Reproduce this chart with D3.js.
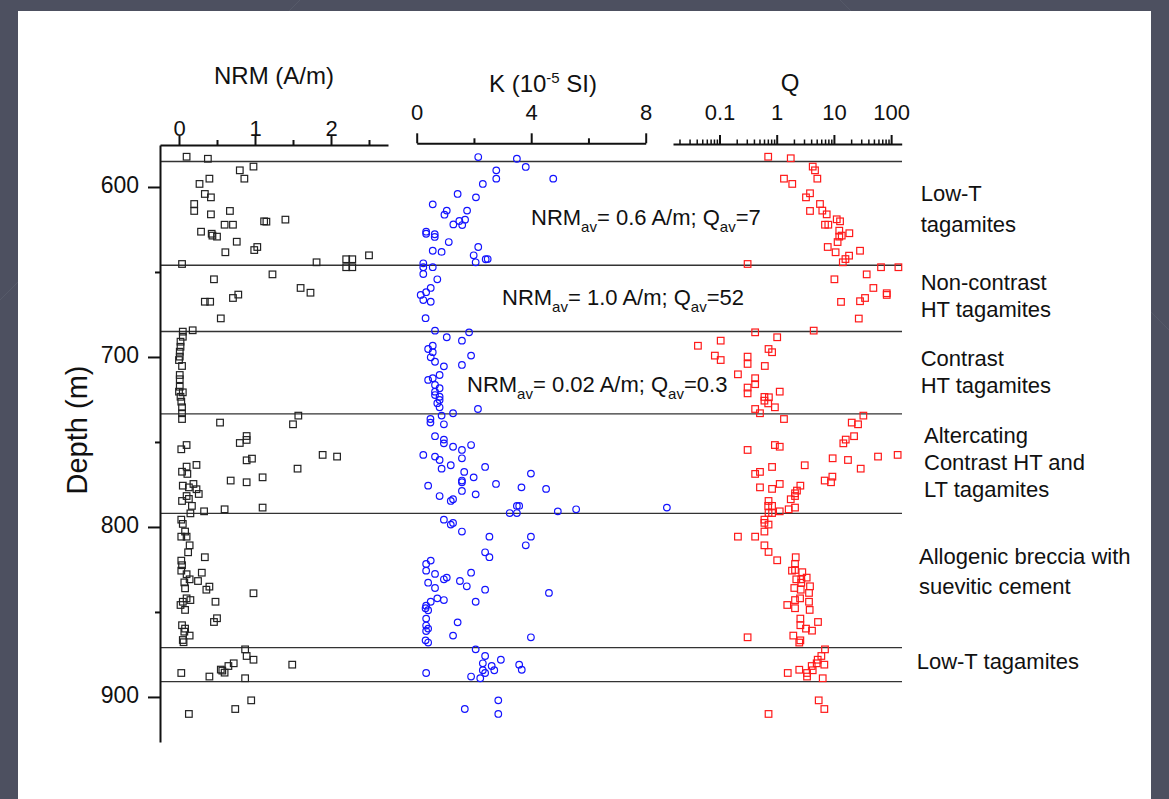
<!DOCTYPE html>
<html>
<head>
<meta charset="utf-8">
<script src="https://cdnjs.cloudflare.com/ajax/libs/d3/7.8.5/d3.min.js"></script>
<style>
	body { margin: 0; background: #4d5060; }
	svg text { font-family: "Liberation Sans", Arial, sans-serif; fill: #111; }
</style>
</head>
<body>
<div id="g-container"></div>
<script>
	// depth (m), value pairs
	var nrmPoints = [[582.2,0.10],[583.4,0.38],[588.0,0.98],[590.2,0.80],[595.1,0.86],[595.1,0.40],[598.2,0.27],[604.1,0.34],[606.1,0.42],[610.0,0.20],[614.1,0.20],[616.1,0.42],[614.1,0.67],[622.2,0.60],[622.2,0.71],[620.2,1.12],[620.4,1.15],[619.2,1.40],[626.3,0.29],[627.5,0.43],[628.6,0.44],[629.2,0.50],[632.2,0.76],[635.3,1.03],[637.1,0.99],[638.4,0.61],[640.2,2.50],[642.5,2.20],[642.5,2.28],[647.2,2.20],[647.2,2.28],[644.3,1.81],[645.3,0.04],[651.4,1.23],[654.3,0.46],[659.4,1.60],[662.2,1.73],[663.3,0.78],[665.3,0.71],[667.5,0.34],[667.5,0.41],[677.3,0.55],[684.3,0.18],[685.1,0.05],
		[688.1,0.05],[691.0,0.02],[694.0,0.02],[696.9,0.01],[699.8,0.01],[701.8,0.00],[705.3,0.04],[710.6,0.01],[713.1,0.01],[717.5,0.01],[720.4,0.00],[720.8,0.05],[723.4,0.02],[726.3,0.03],[729.6,0.04],[733.1,0.04],[736.5,0.04],
		[734.5,1.57],[739.6,1.50],[738.6,0.54],[746.5,0.89],[748.8,0.89],[750.6,0.80],[751.8,0.10],[754.3,0.03],[757.6,1.89],[758.6,2.08],[759.8,0.96],[760.8,0.89],[765.7,1.56],[763.5,0.23],[764.5,0.10],[767.5,0.04],[768.8,0.11],[770.8,1.10],[772.7,0.68],[773.7,0.89],[775.7,0.05],[776.7,0.13],[774.7,0.19],[777.8,0.23],[780.6,0.26],[781.8,0.10],[784.7,0.04],[783.5,0.13],[787.6,0.17],[792.0,0.15],[790.8,0.33],[789.6,0.60],[788.6,1.10],
		[795.7,0.03],[798.2,0.05],[802.7,0.08],[805.7,0.03],[805.7,0.10],[810.8,0.14],[814.9,0.12],[817.8,0.34],[819.8,0.03],[822.5,0.04],[825.7,0.03],[826.9,0.30],[827.8,0.10],[830.8,0.14],[831.8,0.25],[832.6,0.07],[836.1,0.08],[835.1,0.40],[836.9,0.36],[839.0,0.98],[842.0,0.10],[843.0,0.15],[844.0,0.05],[844.0,0.48],[845.9,0.02],[848.8,0.08],[853.7,0.50],[855.9,0.46],[857.8,0.04],[859.8,0.08],[863.9,0.14],[861.6,0.07],[866.5,0.05],[867.8,0.06],
		[872.0,0.87],[875.9,0.89],[878.1,0.98],[880.2,0.72],[881.8,0.65],[883.9,0.55],[885.7,0.60],[884.5,0.57],[881.0,1.49],[885.9,0.03],[888.0,0.40],[889.0,0.87],[902.0,0.95],[907.1,0.74],[910.0,0.13]];

	var kPoints = [[582.4,2.15],[583.4,3.50],[588.2,3.81],[590.2,2.78],[595.1,2.78],[595.1,4.77],[598.2,2.31],[604.1,1.43],[606.1,2.07],[610.2,0.56],[613.9,1.05],[616.3,0.97],[613.9,1.76],[619.2,1.69],[620.0,1.49],[622.0,1.28],[622.4,1.59],[626.3,0.33],[627.5,0.33],[627.8,0.63],[629.4,0.63],[632.4,1.12],[635.3,2.15],[637.5,0.56],[638.2,0.87],[640.2,1.99],[642.5,2.41],[642.4,2.48],[644.3,2.06],[644.9,0.23],[647.2,0.23],[647.2,0.56],[651.2,0.23],[654.3,0.72],[659.4,0.49],[661.9,0.33],[663.5,0.14],[666.5,0.23],[667.5,0.49],[677.2,0.31],[684.5,0.64],
		[688.4,1.05],[685.5,1.83],[690.4,1.58],[693.4,0.56],[695.3,0.40],[697.2,0.56],[699.2,1.90],[700.2,0.49],[702.8,0.64],[704.7,1.58],[705.5,0.95],[710.6,0.80],[712.5,0.56],[713.5,0.40],[716.5,0.64],[718.4,0.80],[720.4,0.64],[722.4,0.64],[723.4,0.80],[727.2,0.72],[725.3,0.80],[729.6,0.80],[730.6,2.14],[733.1,1.27],
		[734.5,0.87],[736.5,0.48],[738.6,0.48],[739.6,0.95],[746.6,0.64],[748.6,0.95],[750.8,0.95],[752.8,1.27],[751.8,1.90],[754.7,1.58],[757.6,0.23],[758.6,0.64],[760.6,0.80],[759.6,1.58],[763.7,1.19],[765.7,0.87],[764.7,2.39],[767.6,1.66],[768.6,3.99],[770.8,1.99],[772.7,1.58],[773.7,1.58],[774.7,2.77],[775.7,0.40],[776.7,3.66],[777.6,4.52],[778.8,1.58],[780.8,2.06],[781.8,0.80],[783.7,1.27],[784.7,1.19],[787.6,3.50],[787.6,3.58],[791.8,3.25],[791.8,3.50],[790.8,4.93],[789.6,5.57],[788.6,8.74],
		[795.7,0.95],[797.6,1.27],[798.6,1.19],[802.7,1.58],[805.7,2.54],[805.7,3.99],[810.8,3.81],[814.9,2.39],[817.8,2.54],[819.8,0.49],[821.8,0.33],[825.7,0.33],[827.6,0.64],[826.9,1.90],[830.8,0.95],[829.8,1.05],[832.8,0.40],[831.8,1.51],[834.9,1.75],[835.9,0.64],[836.9,2.39],[838.8,4.62],[842.0,0.72],[844.0,0.49],[843.0,0.95],[844.0,2.06],[846.3,0.33],[847.8,0.31],[849.0,0.40],[853.9,0.33],[856.1,1.43],[858.0,0.33],[859.8,0.40],[861.2,0.33],[863.9,1.27],[864.9,3.99],[866.7,0.31],[868.0,0.40],
		[872.0,2.06],[875.9,2.39],[878.1,2.94],[880.2,2.31],[881.8,2.62],[881.0,3.58],[884.0,3.67],[884.3,2.31],[885.9,2.39],[884.3,2.71],[885.9,0.33],[888.0,1.90],[889.0,2.22],[902.0,2.85],[907.1,1.68],[910.0,2.85]];

	var qPoints = [[582.2,0.71],[583.1,1.76],[588.0,4.26],[590.2,4.67],[595.1,5.13],[595.1,1.34],[598.2,1.87],[603.7,3.82],[606.1,3.25],[610.0,5.71],[613.9,6.27],[614.1,3.82],[616.1,7.48],[619.0,11.2],[620.2,12.8],[622.2,6.98],[622.2,7.98],[625.7,12.4],[627.2,18.6],[628.6,13.7],[629.2,12.4],[632.4,11.6],[635.3,7.8],[638.4,10.7],[637.5,28.6],[640.4,18.4],[642.4,15.9],[644.3,14.3],[645.3,0.31],
		[647.2,66.6],[647.2,134],[651.4,37.4],[654.3,10.2],[659.4,48.9],[665.3,35.0],[667.2,28.6],[662.5,83.8],[663.5,83.8],[667.6,13.3],[677.4,27.2],
		[685.5,0.42],[684.5,4.43],[688.4,1.02],[690.4,0.105],[693.4,0.042],[695.3,0.72],[697.2,0.83],[699.2,0.083],[701.8,0.105],[699.8,0.31],[704.1,0.31],[705.3,0.62],[710.2,0.21],[712.5,0.42],[716.0,0.42],[718.0,0.31],[721.4,0.31],[720.4,1.13],[723.5,0.61],[723.7,0.73],[725.7,0.61],[727.3,0.71],[729.6,0.93],[730.6,0.42],[733.1,0.51],
		[736.5,1.34],[734.5,32.7],[738.6,20.5],[739.6,26.4],[746.6,22.5],[748.6,16.1],[750.8,14.6],[751.8,0.93],[752.8,1.13],[754.7,0.31],[759.6,9.5],[760.6,17.6],[758.6,59],[757.6,130],[765.7,29.4],[763.7,3.09],[764.7,0.83],[767.6,0.51],[768.8,0.42],[772.7,6.9],[770.4,9.4],[773.7,8.9],[774.7,1.13],[777.6,0.83],[776.7,0.51],[775.7,2.59],[778.6,2.26],[780.2,2.09],[781.8,2.09],[783.7,1.76],[784.7,0.72],[787.6,0.83],[787.6,0.71],[788.6,2.09],[789.6,1.62],[790.8,1.13],[791.8,0.72],[791.8,0.83],
		[795.7,0.61],[797.6,0.61],[798.6,0.72],[802.7,0.61],[805.7,0.21],[805.7,0.42],[810.8,0.61],[814.7,0.72],[819.6,1.02],[817.8,2.15],[821.8,2.09],[825.3,2.09],[825.7,1.85],[826.6,2.8],[829.8,3.34],[830.8,2.69],[830.8,2.2],[832.8,2.69],[834.9,3.82],[835.9,2.03],[836.9,2.63],[838.8,3.67],[842.0,2.56],[843.0,2.09],[844.0,3.67],[845.9,1.53],[847.8,2.09],[848.8,3.77],[853.9,2.59],[855.9,5.27],[857.8,2.59],[859.8,3.25],[861.0,4.14],[863.9,1.95],[864.9,0.31],[866.7,2.59],[868.0,2.48],
		[872.0,6.98],[875.9,6.03],[878.1,5.21],[881.0,6.8],[881.8,4.09],[880.2,5.0],[884.0,2.48],[885.9,1.56],[885.9,3.39],[884.3,4.26],[888.0,3.39],[889.0,6.37],[902.0,5.42],[907.1,6.8],[910.0,0.72]];

	// unit boundaries (m)
	var boundaryDepths = [585, 646, 685, 733.5, 792, 871, 891];

	var depthTicks = [600, 700, 800, 900];
	var depthMinorTicks = [650, 750, 850];
	var nrmTicks = [0, 1, 2];
	var nrmMinorTicks = [0.5, 1.5, 2.5];
	var kTicks = [0, 4, 8];
	var kMinorTicks = [2, 6];
	var qTicks = [0.1, 1, 10, 100];

	var unitLabels = [
		["Low-T", "tagamites"],
		["Non-contrast", "HT tagamites"],
		["Contrast", "HT tagamites"],
		["Altercating", "Contrast HT and", "LT tagamites"],
		["Allogenic breccia with", "suevitic cement"],
		["Low-T tagamites"]
	];
	var averages = [
		{nrm: "0.6", q: "7"},
		{nrm: "1.0", q: "52"},
		{nrm: "0.02", q: "0.3"}
	];

	var W = 1169, H = 799;
	var svg = d3.select("#g-container").append("svg").attr("width", W).attr("height", H)

	// slide background
	svg.append("rect").attr("width", W).attr("height", H).attr("fill", "#4d5060")
	svg.append("line").attr("x1", 0).attr("y1", 300).attr("x2", 300).attr("y2", 0).attr("stroke", "#565a69").attr("stroke-width", 1)
	svg.append("line").attr("x1", 840).attr("y1", 0).attr("x2", 1169).attr("y2", 330).attr("stroke", "#565a69").attr("stroke-width", 1)
	svg.append("rect").attr("x", 18).attr("y", 11).attr("width", 1133).attr("height", H - 11).attr("fill", "#fff")

	var y = d3.scaleLinear().domain([575.3, 926.5]).range([145, 742])
	var xNrm = d3.scaleLinear().domain([-0.25, 2.75]).range([160, 388])
	var xK = d3.scaleLinear().domain([0, 8]).range([416.7, 645.7])
	var xQ = d3.scaleLog().domain([0.0154, 153]).range([673, 901.7])

	function styleAxis(g, width){
		g.selectAll(".domain").attr("stroke", "#111").attr("stroke-width", width)
		g.selectAll(".tick line").attr("stroke", "#111").attr("stroke-width", width)
		g.selectAll("text").style("font-family", "Liberation Sans, Arial, sans-serif").attr("fill", "#111")
	}

	// boundary lines
	svg.append("g").selectAll("line").data(boundaryDepths).join("line")
		.attr("x1", 160).attr("x2", 902)
		.attr("y1", function(d){ return y(d) })
		.attr("y2", function(d){ return y(d) })
		.attr("stroke", "#333").attr("stroke-width", 1.4)

	// depth axis
	var gDepth = svg.append("g").attr("transform", "translate(160,0)")
		.call(d3.axisLeft(y).tickValues(depthTicks).tickSize(12).tickSizeOuter(0).tickPadding(9))
	gDepth.selectAll("text").attr("font-size", 23).attr("dy", "0.24em")
	styleAxis(gDepth, 2)
	var gDepthMinor = svg.append("g").attr("transform", "translate(160,0)")
		.call(d3.axisLeft(y).tickValues(depthMinorTicks).tickSize(5).tickFormat(""))
	gDepthMinor.select(".domain").remove()
	styleAxis(gDepthMinor, 2)

	svg.append("text")
		.attr("transform", "translate(87,430) rotate(-90)")
		.attr("text-anchor", "middle")
		.attr("font-size", 29)
		.text("Depth (m)")

	// NRM axis
	var gNrm = svg.append("g").attr("transform", "translate(0,145)")
		.call(d3.axisTop(xNrm).tickValues(nrmTicks).tickSize(9).tickSizeOuter(0).tickPadding(0).tickFormat(d3.format("d")))
	gNrm.selectAll("text").attr("font-size", 22)
	styleAxis(gNrm, 2)
	var gNrmMinor = svg.append("g").attr("transform", "translate(0,145)")
		.call(d3.axisTop(xNrm).tickValues(nrmMinorTicks).tickSize(5).tickFormat(""))
	gNrmMinor.select(".domain").remove()
	styleAxis(gNrmMinor, 2)

	// K axis
	var gK = svg.append("g").attr("transform", "translate(0,143.3)")
		.call(d3.axisTop(xK).tickValues(kTicks).tickSize(10).tickSizeOuter(0).tickPadding(13).tickFormat(d3.format("d")))
	gK.selectAll("text").attr("font-size", 22)
	styleAxis(gK, 2)
	var gKMinor = svg.append("g").attr("transform", "translate(0,143.3)")
		.call(d3.axisTop(xK).tickValues(kMinorTicks).tickSize(5).tickFormat(""))
	gKMinor.select(".domain").remove()
	styleAxis(gKMinor, 2)

	// Q axis (log)
	var qMinor = []
	;[0.01, 0.1, 1, 10, 100].forEach(function(dec){
		for(var m = 2; m <= 9; m++){
			var v = dec * m
			if(v > xQ.domain()[0] && v < xQ.domain()[1]) qMinor.push(v)
		}
	})
	var gQ = svg.append("g").attr("transform", "translate(0,144)")
		.call(d3.axisTop(xQ).tickValues(qTicks).tickSize(9).tickSizeOuter(0).tickPadding(15).tickFormat(d3.format("~g")))
	gQ.selectAll("text").attr("font-size", 22)
	styleAxis(gQ, 2)
	var gQMinor = svg.append("g").attr("transform", "translate(0,144)")
		.call(d3.axisTop(xQ).tickValues(qMinor).tickSize(4.5).tickFormat(""))
	gQMinor.select(".domain").remove()
	styleAxis(gQMinor, 1.5)

	// titles
	svg.append("text").attr("x", 274).attr("y", 84).attr("text-anchor", "middle").attr("font-size", 24).text("NRM (A/m)")
	var kTitle = svg.append("text").attr("x", 543).attr("y", 92).attr("text-anchor", "middle").attr("font-size", 24)
	kTitle.append("tspan").text("K (10")
	kTitle.append("tspan").attr("dy", -9).attr("font-size", 15).text("-5")
	kTitle.append("tspan").attr("dy", 9).text(" SI)")
	svg.append("text").attr("x", 790).attr("y", 91).attr("text-anchor", "middle").attr("font-size", 24).text("Q")

	// data marks
	var sq = 6.6
	svg.append("g").selectAll("rect").data(nrmPoints).join("rect")
		.attr("x", function(d){ return xNrm(d[1]) - sq/2 })
		.attr("y", function(d){ return y(d[0]) - sq/2 })
		.attr("width", sq).attr("height", sq)
		.attr("fill", "none").attr("stroke", "#222").attr("stroke-width", 1.2)

	svg.append("g").selectAll("circle").data(kPoints).join("circle")
		.attr("cx", function(d){ return xK(d[1]) })
		.attr("cy", function(d){ return y(d[0]) })
		.attr("r", 3.3)
		.attr("fill", "none").attr("stroke", "#1414ff").attr("stroke-width", 1.2)

	svg.append("g").selectAll("rect").data(qPoints).join("rect")
		.attr("x", function(d){ return xQ(d[1]) - sq/2 })
		.attr("y", function(d){ return y(d[0]) - sq/2 })
		.attr("width", sq).attr("height", sq)
		.attr("fill", "none").attr("stroke", "#ff1a1a").attr("stroke-width", 1.2)

	// averages in the upper units
	var avgPos = [[531, 225], [502, 305], [467, 392]]
	averages.forEach(function(a, i){
		var t = svg.append("text").attr("x", avgPos[i][0]).attr("y", avgPos[i][1]).attr("font-size", 22)
		t.append("tspan").text("NRM")
		t.append("tspan").attr("dy", 7).attr("font-size", 15).text("av")
		t.append("tspan").attr("dy", -7).text("= " + a.nrm + " A/m; Q")
		t.append("tspan").attr("dy", 7).attr("font-size", 15).text("av")
		t.append("tspan").attr("dy", -7).text("=" + a.q)
	})

	// unit names on the right
	var labelPos = [
		[920.7, [200.7, 232]],
		[920.7, [290, 316.7]],
		[920.7, [366, 392.7]],
		[924, [443.3, 470, 497.3]],
		[919, [564, 594]],
		[916.7, [669.3]]
	]
	unitLabels.forEach(function(lines, i){
		lines.forEach(function(line, j){
			svg.append("text").attr("x", labelPos[i][0]).attr("y", labelPos[i][1][j]).attr("font-size", 22).text(line)
		})
	})
</script>
</body>
</html>
